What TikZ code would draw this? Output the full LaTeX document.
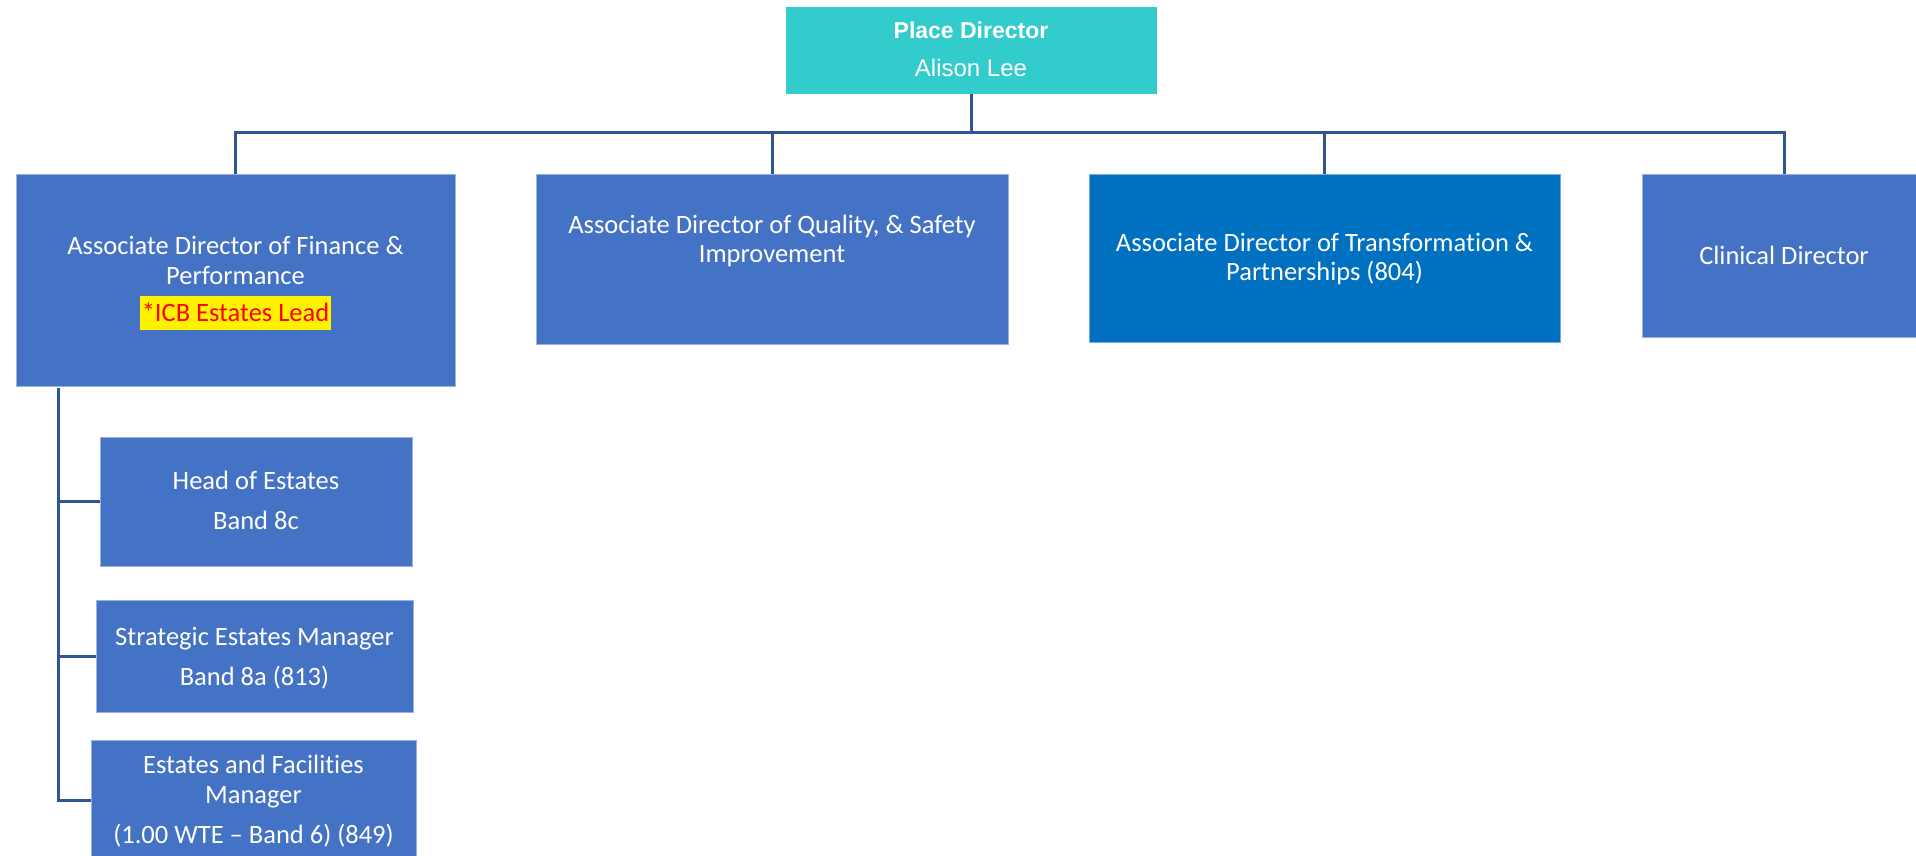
\documentclass[tikz,border=0pt]{standalone}
\usepackage{fontspec}
\setmainfont{Carlito}[Ligatures={NoCommon}]
\newfontfamily\pdfont{Liberation Sans}
\definecolor{boxblue}{HTML}{4472C4}
\definecolor{transblue}{HTML}{0070C0}
\definecolor{teal}{HTML}{33CCCC}
\definecolor{linecol}{HTML}{2F5597}
\begin{document}
\begin{tikzpicture}[x=1pt,y=-1pt,
  box/.style={fill=boxblue, draw=boxblue!55!white, line width=0.8pt, inner sep=0pt, anchor=north west},
  txt/.style={text=white, align=center, inner sep=0pt, font=\fontsize{26.5}{29.5}\selectfont},
  conn/.style={draw=linecol, line width=3pt}]
\useasboundingbox (0,0) rectangle (1916,855);
\clip (0,0) rectangle (1916,855);
% top
\node[box, fill=teal, draw=teal, minimum width=370, minimum height=86] (place) at (786,7) {};
\node[txt, font=\pdfont\fontsize{24}{38}\selectfont] (placet) at (971,49) {{\fontsize{23}{38}\selectfont\textbf{Place Director}}\\Alison Lee};
% second row
\node[box, minimum width=439, minimum height=212] (fin) at (16,174) {};
\node[txt] (fint) at (235.5,260.5) {Associate Director of Finance \&\\Performance};
\node[inner xsep=2pt, inner ysep=0pt, fill=yellow, text=red, font=\fontsize{26.5}{29.5}\selectfont] (finhl) at (235.5,313) {\rule[-9pt]{0pt}{34pt}*ICB Estates Lead};
\node[box, minimum width=472, minimum height=170] (qual) at (536,174) {};
\node[txt] (qualt) at (772,241) {Associate Director of Quality, \& Safety\\Improvement};
\node[box, fill=transblue, draw=transblue!55!white, minimum width=471, minimum height=168] (trans) at (1089,174) {};
\node[txt] (transt) at (1324.5,259) {Associate Director of Transformation \&\\Partnerships (804)};
\node[box, minimum width=284, minimum height=163] (clin) at (1642,174) {};
\node[txt] (clint) at (1784,255) {Clinical Director};
% sub boxes
\node[box, minimum width=312, minimum height=129] (head) at (100,437) {};
\node[txt, font=\fontsize{26.5}{40}\selectfont] (headt) at (256,500.5) {Head of Estates\\Band 8c};
\node[box, minimum width=317, minimum height=112] (strat) at (96,600) {};
\node[txt, font=\fontsize{26.5}{40}\selectfont] (stratt) at (254.5,658) {Strategic Estates Manager\\Band 8a (813)};
\node[box, minimum width=325, minimum height=120] (estf) at (91,740) {};
\node[txt, font=\fontsize{26.5}{30}\selectfont] (estft) at (253.5,801) {Estates and Facilities\\Manager\\[10pt](1.00 WTE -- Band 6) (849)};
% connectors
\draw[conn] (place.south) -- ++(0,39) coordinate (bus);
\foreach \n in {fin,qual,trans,clin} \draw[conn] (\n.north) |- (bus);
\coordinate (spine) at (58,388);
\draw[conn] (spine) |- (head.west);
\draw[conn] (spine) |- (strat.west);
\draw[conn] (spine) |- (estf.west);
\end{tikzpicture}
\end{document}
